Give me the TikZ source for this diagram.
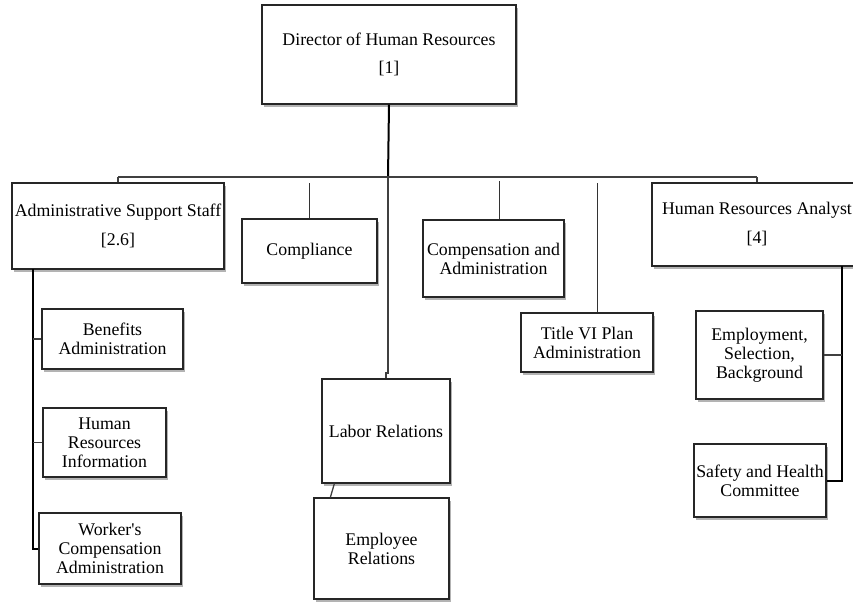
\documentclass[tikz,border=0pt]{standalone}
\usepackage{fontspec}
\setmainfont{Liberation Serif}[Ligatures=TeXOff]
\usetikzlibrary{shadows}
\begin{document}
\begin{tikzpicture}[x=1pt,y=-1pt,
  box/.style={draw=black!85, line width=1.3pt, fill=white, inner sep=0pt,
    align=center, font=\fontsize{17.8}{19}\selectfont,
    drop shadow={shadow xshift=2pt, shadow yshift=-2.8pt, fill=black!50, opacity=0.6}},
  trunk/.style={draw=black, line width=2pt},
  bus/.style={draw=black!75, line width=1.3pt},
  twig/.style={draw=black!80, line width=0.9pt}]
\useasboundingbox (0,0) rectangle (853,603);
\begin{scope}
\clip (0,0) rectangle (853,603);
% top level
\node[box, minimum width=254, minimum height=99] (dir) at (389,54.5)
  {Director of Human Resources\\[9pt][1]};
% second level
\node[box, minimum width=212, minimum height=86] (ass) at (118,226)
  {Administrative Support Staff\\[10pt][2.6]};
\node[box, minimum width=135, minimum height=64] (comp) at (309.5,251) {Compliance};
\node[box, minimum width=141, minimum height=77] (cna) at (493.5,258.5)
  {Compensation and\\Administration};
\node[box, minimum width=210, minimum height=83] (hra) at (757,224.5)
  {Human Resources Analyst\\[10pt][4]};
\node[box, minimum width=132, minimum height=59] (t6) at (587,342.5)
  {Title VI Plan\\Administration};
\node[box, minimum width=128, minimum height=104] (lab) at (386,431) {Labor Relations};
\node[box, minimum width=135, minimum height=101] (emp) at (381.5,548.5)
  {Employee\\Relations};
% under administrative support
\node[box, minimum width=141, minimum height=60] (ben) at (112.5,339)
  {Benefits\\Administration};
\node[box, minimum width=123, minimum height=69] (hri) at (104.5,442.5)
  {Human\\Resources\\Information};
\node[box, minimum width=142, minimum height=71] (wca) at (110,548.5)
  {Worker's\\Compensation\\Administration};
% under the analyst
\node[box, minimum width=127, minimum height=88] (esb) at (759.5,355)
  {Employment,\\Selection,\\Background};
\node[box, minimum width=132, minimum height=73] (shc) at (760,480.5)
  {Safety and Health\\Committee};

% bus and its drops
\coordinate (busL) at (118,177);
\coordinate (busR) at (757,177);
\coordinate (busM) at (388,177);
\draw[trunk] (dir.south) -- (busM);
\draw[bus] (busL) -- (busR);
\draw[bus] (busL) -- (ass.north);
\draw[bus] (busR) -- (hra.north);
\draw[bus] (busM) -- (388,373) -- (386,373) -- (lab.north);
\coordinate (compTop) at (309,183);
\coordinate (cnaTop) at (499,181);
\coordinate (t6Top) at (597,183);
\draw[twig] (compTop) -- (compTop |- comp.north);
\draw[twig] (cnaTop) -- (cnaTop |- cna.north);
\draw[twig] (t6Top) -- (t6Top |- t6.north);
\draw[bus] ([xshift=13pt]lab.south west) -- ([xshift=17pt]emp.north west);

% administrative support trunk
\coordinate (assT) at (33,269);
\draw[trunk] (assT) |- (wca.west);
\draw[bus] (assT |- ben.west) -- (ben.west);
\draw[bus] (assT |- hri.west) -- (hri.west);

% analyst trunk
\coordinate (hraT) at (842,266);
\draw[trunk] (hraT) |- (shc.east);
\draw[bus] (hraT |- esb.east) -- (esb.east);
\end{scope}
\end{tikzpicture}
\end{document}
